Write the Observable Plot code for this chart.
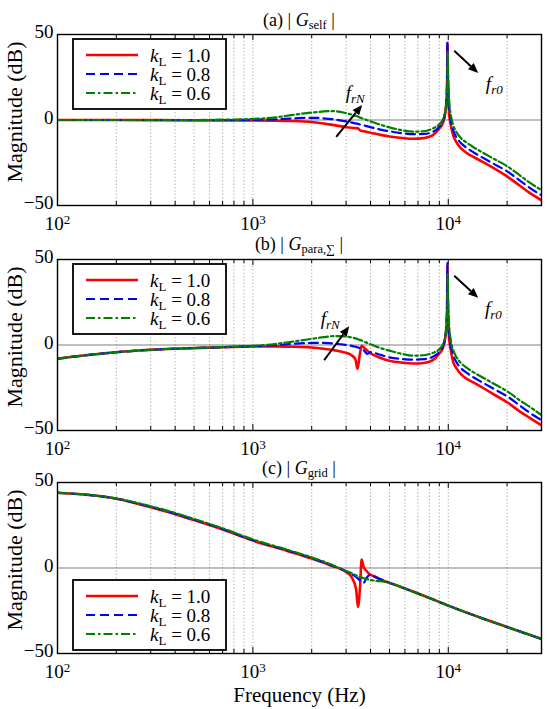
<!DOCTYPE html>
<html>
<head>
<meta charset="utf-8">
<script src="https://cdn.jsdelivr.net/npm/d3@7"></script>
<script src="https://cdn.jsdelivr.net/npm/@observablehq/plot@0.6"></script>
<style>
  html, body { margin: 0; padding: 0; background: #fff; }
  #chart { position: relative; width: 550px; height: 709px; overflow: hidden;
           font-family: "Liberation Serif", "Times New Roman", Times, "DejaVu Serif", serif; color: #000; }
  #chart svg { position: absolute; left: 0; }
  #chart svg text { font-family: "Liberation Serif", "Times New Roman", Times, "DejaVu Serif", serif; }
  .ttl { position: absolute; left: 57px; width: 484px; text-align: center; font-size: 18px; line-height: 18px; white-space: pre; }
  .ttl sub { font-size: 12.5px; vertical-align: -3px; line-height: 0; }
</style>
</head>
<body>
<div id="chart"></div>
<script>
// ---------------- data ----------------
const seriesLabels = ["1.0", "0.8", "0.6"];
const xTicks = [100, 1000, 10000];
const yTicks = [-50, 0, 50];
const gridFreqs = [200, 300, 400, 500, 600, 700, 800, 900, 1000, 2000, 3000, 4000, 5000, 6000, 7000, 8000, 9000, 10000, 20000];
const majorFreqs = [1000, 10000];

// (a) |G_self|
const freqA = [100,150,200,300,500,700,1000,1300,1600,2000,2300,2600,3000,3300,3450,3550,3700,4000,4500,5000,5800,6600,7500,8300,9000,9400,9650,9800,9870,9900,9930,10000,10100,10300,10600,11000,11600,12500,13500,15000,17000,20000,23000,26000,30000];
const redA   = [0,0,0,-0.1,-0.2,-0.3, -0.3,-0.4,-0.6,-1.2,-2,-3, -4.2,-4.7,-4.9,-6.2,-6.6,-7.4, -8.7,-9.6,-10.5,-11,-10.6,-9, -5,-1.5,4,12,25,45, 30,14,4,-3,-9,-13, -16.5,-19.5,-21.7,-24.5,-28,-33, -38,-42.5,-47];
const blueA  = [0,0,0,0,0,0, 0.1,0.4,0.9,1.3,1.0,0.4, -0.8,-1.8,-2.3,-2.7,-3.2,-4.2, -5.6,-6.6,-7.7,-8.3,-8.2,-7, -4,-0.5,5,13,26,46, 33,17,8,0,-6,-10, -13.5,-16.5,-19,-22,-25.5,-30, -35,-39.5,-44];
const greenA = [0,0,0,0,0,0.2, 0.6,1.5,3,4.3,5,5.2, 4,2.7,2,1.3,0.6,-0.8, -2.8,-4.3,-6,-6.8,-6.6,-5, -2.5,0.5,5,11,18,28, 40,24,12,3,-3,-7, -10.5,-13.5,-16,-19,-22.5,-27, -32,-36.5,-41];

// (b) |G_para,Σ|
const freqB = [100,150,200,300,500,700,1000,1300,1600,2000,2300,2600,3000,3200,3350,3430,3520,3600,3700,3850,4000,4500,5000,5800,6600,7500,8300,9000,9400,9650,9800,9870,9900,9930,10000,10100,10300,10600,11000,11600,12500,13500,15000,17000,20000,23000,26000,30000];
const redB   = [-8,-5.6,-4.2,-2.8,-1.8,-1.3, -0.9,-0.8,-1,-1.5,-2.2,-3, -4.6,-6,-8.5,-14,-6,-0.5, -1.5,-3.3,-4.8,-7.6,-9.2,-10.3, -10.8,-10.5,-9,-5,-1.5,4, 12,25,46,30,14,4, -3,-10,-13.5,-17,-20,-22, -25,-28.7,-33.5,-38.5,-42.5,-47];
const blueB  = [-8,-5.6,-4.2,-2.8,-1.8,-1.3, -0.7,-0.1,0.7,1.2,1.2,0.9, 0,-0.5,-1,-1.3,-1.8,-2.3, -3.2,-5.2,-4.2,-5.8,-7.2,-8.2, -8.6,-8.3,-7,-4,-0.5,5, 13,26,48,33,17,8, 0,-6,-10,-13.5,-16.5,-19, -22,-25.5,-30,-35,-39.5,-44];
const greenB = [-8,-5.6,-4.2,-2.8,-1.8,-1.2, -0.5,0.6,2,3.6,4.6,5.2, 5,4.4,3.9,3.5,3,2.6, 2,1.2,0.4,-1.8,-3.3,-5.2, -6.2,-6,-4.7,-2.5,0.5,5, 11,18,28,42,25,12, 3,-3,-7,-10.5,-13.5,-16, -19,-22.5,-27,-32,-36,-41];

// (c) |G_grid|
const freqC = [100,150,200,300,400,500,700,1000,1500,2000,2500,3000,3200,3370,3450,3540,3600,3690,3800,3930,4100,4260,4700,5000,6000,8000,10000,15000,20000,30000];
const redC   = [44,42.5,40.5,35.5,31.5,28,22.5,16,10,5.5,1.5, -2.3,-5.3,-12,-22.8,-10,5,0.6,-1.5,-3.3,-4.5,-5.3,-7.6,-8.7,-12,-17.5,-22,-29.5,-34.5,-41.5];
const blueC  = [44,42.5,40.5,35.8,31.8,28.3,22.8,16.3,10.3,5.8,1.8, -2,-3.5,-5.2,-6.2,-7.3,-8,-8.6,-6.2,-4.3,-4.6,-5.5,-7.5,-8.6,-12,-17.5,-22,-29.5,-34.5,-41.5];
const greenC = [44,42.6,40.7,36.1,32.2,28.7,23.2,16.7,10.7,6.2,2.2, -1.8,-3,-4.3,-4.8,-5.3,-5.6,-6,-6.4,-6.8,-7.2,-7.5,-8,-8.6,-12,-17.5,-22,-29.5,-34.5,-41.5];

// annotations (data coordinates: frequency, dB)
const arrowsA = [{f1: 2685, v1: -10.2, f2: 3647, v2: 8.5}, {f1: 10790, v1: 40.2, f2: 14310, v2: 27.2}];
const labelsA = [{f: 3358, v: 16, sub: "rN"}, {f: 17300, v: 21.3, sub: "r0"}];
const arrowsB = [{f1: 2329, v1: -9.2, f2: 3130, v2: 10.7}, {f1: 10790, v1: 40.2, f2: 14310, v2: 27.3}];
const labelsB = [{f: 2500, v: 15.4, sub: "rN"}, {f: 17100, v: 21.3, sub: "r0"}];

// ---------------- styles ----------------
const lineStyles = [
  {stroke: "#ff0000", strokeWidth: 2.6},
  {stroke: "#0000ff", strokeWidth: 2.2, strokeDasharray: "9,5"},
  {stroke: "#008000", strokeWidth: 2.2, strokeDasharray: "9,3,2.5,3"}
];
const FONT = "'Liberation Serif', 'Times New Roman', Times, 'DejaVu Serif', serif";
const chart = document.getElementById("chart");

function makePanel({freq, series, top, marginBottom, legendTop, arrows, labels, xLabel}) {
  const data = [];
  series.forEach((arr, s) => arr.forEach((v, j) => data.push({f: freq[j], v, s})));
  const mt = 30, mb = marginBottom, ml = 57, mr = 9;
  const height = mt + 171 + mb;
  const plot = Plot.plot({
    width: 550, height,
    marginTop: mt, marginBottom: mb, marginLeft: ml, marginRight: mr,
    style: {fontFamily: FONT, fontSize: "19px", background: "transparent", color: "#000"},
    x: {type: "log", domain: [100, 30000]},
    y: {domain: [-50, 50]},
    marks: [
      Plot.ruleX(gridFreqs, {stroke: "#9a9a9a", strokeWidth: 0.9, strokeDasharray: "1.2,2.2"}),
      Plot.ruleY([0], {stroke: "#808080", strokeWidth: 1.2}),
      Plot.ruleX(gridFreqs, {y1: -50, y2: d => majorFreqs.includes(d) ? -46.5 : -47.6, stroke: "#000", strokeWidth: 1}),
      Plot.ruleX(gridFreqs, {y1: 50, y2: d => majorFreqs.includes(d) ? 46.5 : 47.6, stroke: "#000", strokeWidth: 1}),
      ...[0, 1, 2].map(s => Plot.line(data.filter(d => d.s === s), {x: "f", y: "v", curve: "monotone-x", clip: true, ...lineStyles[s]})),
      Plot.frame({stroke: "#000", strokeWidth: 1.4}),
      Plot.axisX({ticks: xTicks, tickSize: 0, tickPadding: 11, tickFormat: d => String(Math.round(Math.log10(d))),
                  label: xLabel || null, labelAnchor: "center", labelOffset: 48, labelArrow: "none"}),
      Plot.axisY({ticks: yTicks, tickSize: 0, tickPadding: 4, tickFormat: d => d < 0 ? "\u2212" + Math.abs(d) : String(d),
                  label: "Magnitude (dB)", labelAnchor: "center", labelOffset: 51, labelArrow: "none"})
    ]
  });
  plot.style.top = top + "px";
  chart.appendChild(plot);
  const svg = d3.select(plot);
  svg.selectAll('[aria-label="x-axis label"] text').attr("font-size", "21px");
  svg.selectAll('[aria-label="y-axis label"] text').attr("font-size", "22px").attr("dx", "8");
  svg.selectAll('[aria-label="y-axis tick label"] text').attr("dy", "-0.12em");
  // superscript exponents on x tick labels
  svg.selectAll('[aria-label="x-axis tick label"] text').each(function () {
    const t = d3.select(this);
    const e = t.text();
    t.text("10");
    t.append("tspan").attr("dy", "-0.45em").attr("font-size", "13px").text(e);
  });
  const sx = plot.scale("x"), sy = plot.scale("y");
  const g = svg.append("g");
  // arrows
  (arrows || []).forEach(a => {
    const x1 = sx.apply(a.f1), y1 = sy.apply(a.v1), x2 = sx.apply(a.f2), y2 = sy.apply(a.v2);
    const ang = Math.atan2(y2 - y1, x2 - x1), L = 10, W = 4.2;
    const bx = x2 - L * Math.cos(ang), by = y2 - L * Math.sin(ang);
    g.append("line").attr("x1", x1).attr("y1", y1).attr("x2", bx).attr("y2", by).attr("stroke", "#000").attr("stroke-width", 2);
    g.append("path").attr("fill", "#000")
      .attr("d", `M${x2},${y2}L${bx + W * Math.sin(ang)},${by - W * Math.cos(ang)}L${bx - W * Math.sin(ang)},${by + W * Math.cos(ang)}Z`);
  });
  (labels || []).forEach(l => {
    const t = g.append("text").attr("x", sx.apply(l.f)).attr("y", sy.apply(l.v)).attr("text-anchor", "middle")
      .attr("dy", "0.35em").attr("font-family", FONT).attr("font-style", "italic").attr("font-size", "19px");
    t.append("tspan").text("f");
    t.append("tspan").attr("font-size", "13px").attr("dy", "4").text(l.sub);
  });
  // legend
  const lx = ml + 16, ly = mt + legendTop, lw = 153, lh = 70;
  const lg = svg.append("g");
  lg.append("rect").attr("x", lx).attr("y", ly).attr("width", lw).attr("height", lh)
    .attr("fill", "#fff").attr("stroke", "#000").attr("stroke-width", 1.8);
  seriesLabels.forEach((lab, i) => {
    const yy = ly + 16 + i * 19;
    const st = lineStyles[i];
    lg.append("line").attr("x1", lx + 13).attr("x2", lx + 65).attr("y1", yy).attr("y2", yy)
      .attr("stroke", st.stroke).attr("stroke-width", st.strokeWidth).attr("stroke-dasharray", st.strokeDasharray || null);
    const t = lg.append("text").attr("x", lx + 77).attr("y", yy).attr("dy", "0.35em").attr("text-anchor", "start")
      .attr("font-family", FONT).attr("font-size", "19px");
    t.append("tspan").attr("font-style", "italic").text("k");
    t.append("tspan").attr("font-size", "13px").attr("dy", "4").text("L");
    t.append("tspan").attr("dy", "-4").text(" = " + lab);
  });
  return plot;
}

function addTitle(html, centerY) {
  const d = document.createElement("div");
  d.className = "ttl";
  d.style.top = (centerY - 9) + "px";
  d.innerHTML = html;
  chart.appendChild(d);
}

makePanel({freq: freqA, series: [redA, blueA, greenA], top: 4, marginBottom: 30, legendTop: 5, arrows: arrowsA, labels: labelsA});
makePanel({freq: freqB, series: [redB, blueB, greenB], top: 229, marginBottom: 30, legendTop: 5, arrows: arrowsB, labels: labelsB});
makePanel({freq: freqC, series: [redC, blueC, greenC], top: 452, marginBottom: 56, legendTop: 98, xLabel: "Frequency (Hz)"});

addTitle("(a) | <i>G</i><sub>self</sub> |", 20);
addTitle("(b) | <i>G</i><sub>para,\u2211</sub> |", 244);
addTitle("(c) | <i>G</i><sub>grid</sub> |", 468);
</script>
</body>
</html>
